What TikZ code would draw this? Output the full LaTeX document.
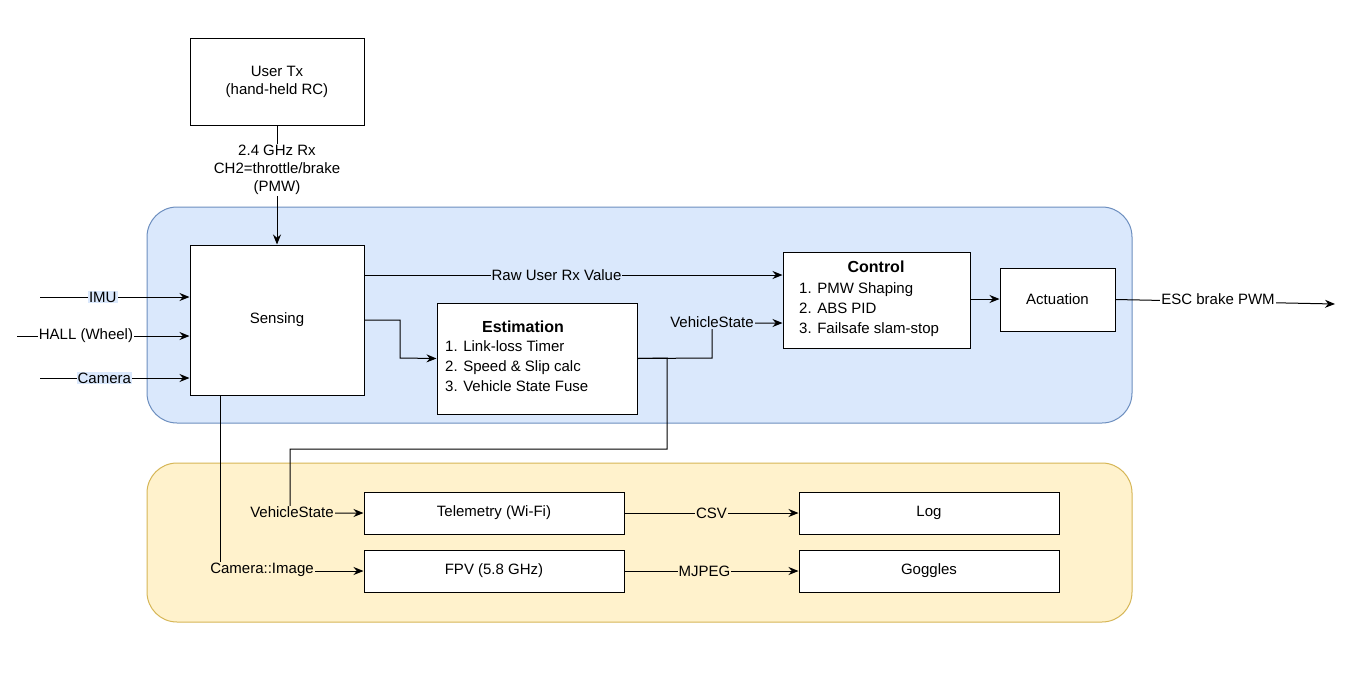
\documentclass[tikz,border=0pt]{standalone}
\usepackage{fontspec}
\setmainfont{Liberation Sans}
\usetikzlibrary{arrows.meta}
\begin{document}
\begin{tikzpicture}[x=1pt,y=-1pt,
  font=\fontsize{15}{18}\selectfont,
  box/.style={draw,fill=white,line width=1pt},
  lab/.style={inner sep=1pt},
  arr/.style={-{Stealth[length=10pt,width=8pt]},line width=1pt},
  ln/.style={line width=1pt}]
\useasboundingbox (0,0) rectangle (1363,689);
\draw[fill=white,draw=none] (0,0) rectangle (1363,689);
\draw[fill=blue!15!white,fill={rgb,255:red,218;green,232;blue,252},draw={rgb,255:red,108;green,142;blue,191},rounded corners=30pt,line width=1pt] (147,207) rectangle (1132,423);
\draw[fill={rgb,255:red,255;green,242;blue,204},draw={rgb,255:red,214;green,182;blue,86},rounded corners=30pt,line width=1pt] (147,463) rectangle (1132,622);
\node[box,minimum width=174pt,minimum height=87pt,align=center] (tx) at (277,81.5) {User Tx\\(hand-held RC)};
\node[box,minimum width=174pt,minimum height=150pt] (sens) at (277,320) {Sensing};
\node[box,minimum width=200pt,minimum height=111pt,align=left] (est) at (537,358.5) {};
\node[font=\fontsize{16}{18}\selectfont\bfseries] at (523,327) {Estimation};
\node[align=left,anchor=north west,inner sep=0pt] at (445,340) {1. Link-loss Timer\\[2pt]2. Speed \& Slip calc\\[2pt]3. Vehicle State Fuse};
\node[box,minimum width=187pt,minimum height=96pt] (ctl) at (876.5,300) {};
\node[font=\fontsize{16}{18}\selectfont\bfseries] at (876,267) {Control};
\node[align=left,anchor=north west,inner sep=0pt] at (799,282) {1. PMW Shaping\\[2pt]2. ABS PID\\[2pt]3. Failsafe slam-stop};
\node[box,minimum width=115pt,minimum height=63pt] (act) at (1057.5,299.5) {Actuation};
\node[box,minimum width=260pt,minimum height=42pt] (tel) at (494,513) {Telemetry (Wi-Fi)};
\node[box,minimum width=260pt,minimum height=42pt] (log) at (929,513) {Log};
\node[box,minimum width=260pt,minimum height=42pt] (fpv) at (494,571) {FPV (5.8 GHz)};
\node[box,minimum width=260pt,minimum height=42pt] (gog) at (929,571) {Goggles};
% User Tx to sensing
\draw[arr] (tx.south) -- (sens.north);
\node[align=center,fill=white,inner sep=1pt] (rx) at (277,170) {2.4 GHz Rx\\CH2=throttle/brake\\(PMW)};
% inputs
\coordinate (i1) at (40,297); \coordinate (i2) at (17,336); \coordinate (i3) at (40,378);
\draw[arr] (i1) -- (i1 -| sens.west) node[pos=0.42,lab,fill={rgb,255:red,218;green,232;blue,252}] {IMU};
\draw[arr] (i2) -- (i2 -| sens.west) node[pos=0.40,lab,fill=white] {HALL (Wheel)};
\draw[arr] (i3) -- (i3 -| sens.west) node[pos=0.43,lab,fill={rgb,255:red,218;green,232;blue,252}] {Camera};
\draw[arr] (364,275) -- (ctl.west |- 0,275) node[pos=0.46,lab,fill={rgb,255:red,218;green,232;blue,252}] {Raw User Rx Value};
\draw[arr] (364,320) -- (400,320) -- (400,358) -- (est.west);
\draw[arr] (est.east) -- (712,358) -- (712,323) -- (ctl.west |- 0,323);
\node[lab,fill={rgb,255:red,218;green,232;blue,252}] at (712,322) {VehicleState};
\draw[arr] (est.east) -- (667,358) -- (667,449) -- (290,449) -- (290,513) -- (tel.west);
\node[lab,fill={rgb,255:red,255;green,242;blue,204}] at (292,512) {VehicleState};
\draw[arr] (220,395) -- (220,571) -- (fpv.west);
\node[lab,fill={rgb,255:red,255;green,242;blue,204}] at (262,570) {Camera::Image};
\draw[arr] (tel) -- (log) node[midway,lab,fill={rgb,255:red,255;green,242;blue,204}] {CSV};
\draw[arr] (fpv) -- (gog) node[pos=0.46,lab,fill={rgb,255:red,255;green,242;blue,204}] {MJPEG};
\draw[arr] (ctl.east |- 0,299) -- (act.west |- 0,299);
\coordinate (out) at (1335,304);
\draw[arr] (act.east) -- (out);
\node[lab,fill=white] at (1218,299) {ESC brake PWM};
\end{tikzpicture}
\end{document}
